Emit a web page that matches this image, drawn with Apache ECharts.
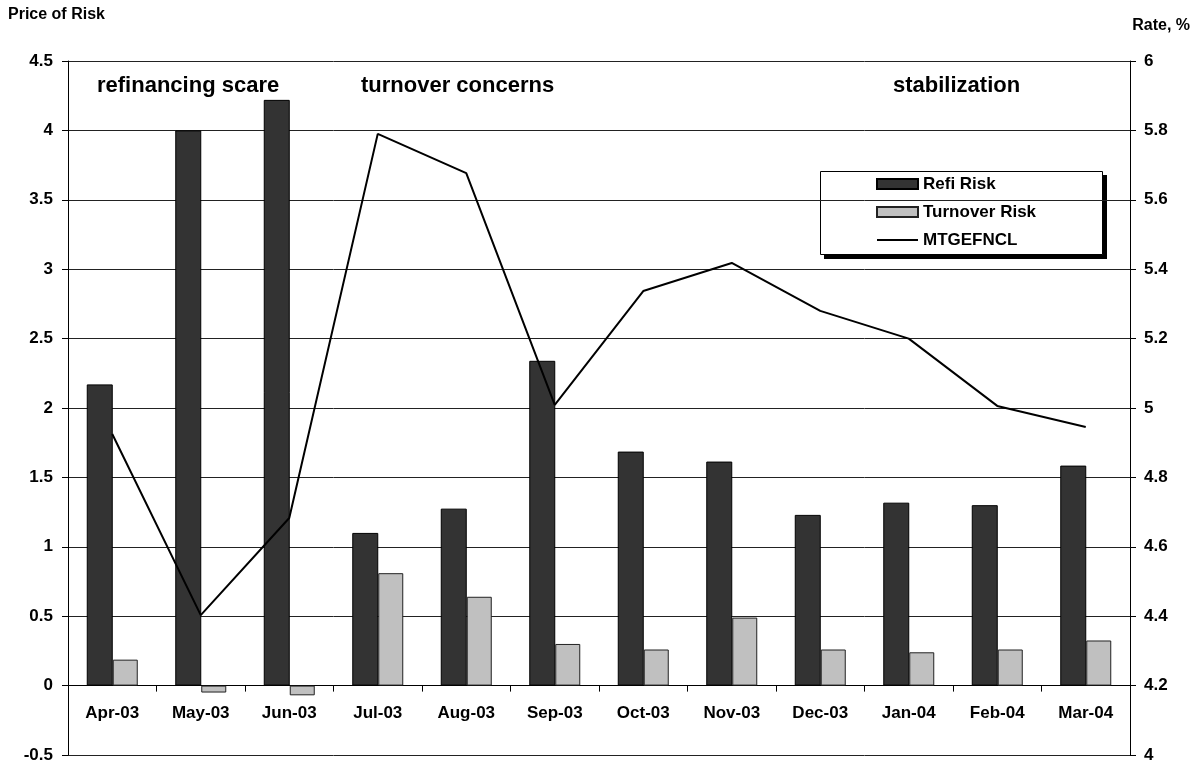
<!DOCTYPE html>
<html><head><meta charset="utf-8">
<script src="https://cdn.jsdelivr.net/npm/echarts@6/dist/echarts.min.js"></script>
<style>html,body{margin:0;padding:0;background:#fff}#c{width:1198px;height:762px}</style>
</head><body><div id="c"></div>
<script>
const categories = ['Apr-03','May-03','Jun-03','Jul-03','Aug-03','Sep-03','Oct-03','Nov-03','Dec-03','Jan-04','Feb-04','Mar-04'];
const refiRisk = [2.17, 4.00, 4.22, 1.10, 1.275, 2.34, 1.686, 1.614, 1.23, 1.318, 1.30, 1.585];
const turnoverRisk = [0.187, -0.05, -0.07, 0.81, 0.64, 0.30, 0.26, 0.49, 0.26, 0.24, 0.26, 0.325];
const mtgefncl = [4.925, 4.403, 4.683, 5.79, 5.677, 5.009, 5.337, 5.418, 5.28, 5.20, 5.006, 4.945];
const annotations = [
  {text:'refinancing scare', x:97, y:87},
  {text:'turnover concerns', x:361, y:87},
  {text:'stabilization', x:893, y:87}
];
const FONT = '"Liberation Sans", Arial, Helvetica, sans-serif';
const chart = echarts.init(document.getElementById('c'));
chart.setOption({
  animation:false,
  backgroundColor:'#fff',
  grid:{left:68, right:68, top:61, bottom:7, outerBoundsMode:'none', containLabel:false},
  legend:{
    orient:'vertical', left:876, top:175,
    padding:0,
    itemGap:10, itemWidth:41, itemHeight:10,
    textStyle:{fontFamily:FONT, fontWeight:'bold', fontSize:17, lineHeight:18, color:'#000'},
    data:[
      {name:'Refi Risk', icon:'rect'},
      {name:'Turnover Risk', icon:'rect'},
      {name:'MTGEFNCL', itemStyle:{color:'rgba(0,0,0,0)', borderColor:'rgba(0,0,0,0)', borderWidth:0}}
    ]
  },
  graphic:[
    {type:'rect', shape:{x:824, y:175, width:283, height:84}, style:{fill:'#000'}, z:-2},
    {type:'rect', shape:{x:820.5, y:171.5, width:282, height:83}, style:{fill:'#fff', stroke:'#000', lineWidth:1}, z:-1},
    {type:'text', left:8, top:7, style:{text:'Price of Risk', font:'bold 16px '+FONT, fill:'#000'}},
    {type:'text', right:8, top:18, style:{text:'Rate, %', font:'bold 16px '+FONT, fill:'#000'}}
  ].concat(annotations.map(a=>({type:'text', left:a.x, top:a.y-12, z:10,
      style:{text:a.text, font:'bold 22px '+FONT, fill:'#000'}}))),
  xAxis:[{
    type:'category', data:categories,
    axisLine:{onZero:true, lineStyle:{color:'#000', width:1}},
    axisTick:{show:true, length:6, lineStyle:{color:'#000'}},
    axisLabel:{show:false},
    splitLine:{show:false}
  },{
    type:'category', data:categories, position:'bottom', offset:-50,
    axisLine:{show:false, onZero:false},
    axisTick:{show:false},
    axisLabel:{show:true, margin:0, fontFamily:FONT, fontWeight:'bold', fontSize:17, color:'#000'},
    splitLine:{show:false}
  }],
  yAxis:[
    {type:'value', min:-0.5, max:4.5, interval:0.5,
     axisLine:{show:true, lineStyle:{color:'#000'}},
     axisTick:{show:true, length:6, lineStyle:{color:'#000'}},
     axisLabel:{margin:15, fontFamily:FONT, fontWeight:'bold', fontSize:17, color:'#000'},
     splitLine:{show:true, lineStyle:{color:'#222', width:1}}},
    {type:'value', min:4, max:6, interval:0.2, position:'right',
     axisLine:{show:true, lineStyle:{color:'#000'}},
     axisTick:{show:true, length:6, lineStyle:{color:'#000'}},
     axisLabel:{margin:14, fontFamily:FONT, fontWeight:'bold', fontSize:17, color:'#000',
       formatter:v=>String(+v.toFixed(1))},
     splitLine:{show:false}}
  ],
  series:[
    {name:'Refi Risk', type:'bar', data:refiRisk, barWidth:26, barGap:'0%',
     itemStyle:{color:'#333333', borderColor:'#000', borderWidth:1}},
    {name:'Turnover Risk', type:'bar', data:turnoverRisk, barWidth:25, barGap:'0%',
     itemStyle:{color:'#c0c0c0', borderColor:'#222', borderWidth:1}},
    {name:'MTGEFNCL', type:'line', yAxisIndex:1, data:mtgefncl, symbol:'none',
     lineStyle:{color:'#000', width:2}, itemStyle:{color:'#000'}, z:5}
  ]
});
</script></body></html>
